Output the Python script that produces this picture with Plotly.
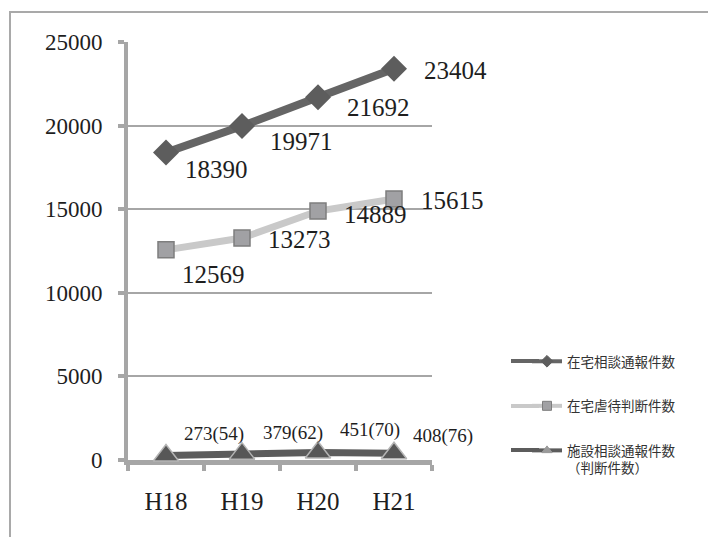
import plotly.graph_objects as go

# Fiscal years
years = ["H18", "H19", "H20", "H21"]

# Series names
name_home_reports = "在宅相談通報件数"
name_home_judged = "在宅虐待判断件数"
name_facility = "施設相談通報件数<br>（判断件数）"

# Series values
home_reports = [18390, 19971, 21692, 23404]
home_judged = [12569, 13273, 14889, 15615]
facility_reports = [273, 379, 451, 408]
facility_judged = [54, 62, 70, 76]

# Y-axis ticks
y_ticks = [0, 5000, 10000, 15000, 20000, 25000]

# Label offsets (px) from each point: (right, down)
off_home_reports = [(50, 17), (59, 15), (60, 10), (61, 2)]
off_home_judged = [(47, 25), (57, 1), (57, 3), (58, 2)]
off_facility = [(48, -21), (51, -21), (52, -22), (49, -17)]

W, H = 708, 537
PX_L, PX_R, PX_T, PX_B = 128, 432, 42, 460

SERIF = "Liberation Serif, DejaVu Serif, serif"
CJK = "Noto Sans CJK JP"
TXT = "#1e1e1e"
AXC = "#a6a6a6"

LINE1, LINE2, LINE3 = "#656565", "#c9c9c9", "#5c5c5c"

fig = go.Figure()

fig.add_trace(go.Scatter(
    x=years, y=home_reports, mode="lines+markers", showlegend=False,
    line=dict(color=LINE1, width=8),
    marker=dict(symbol="diamond", size=20, color="#5d5d5d"),
    cliponaxis=False,
))
fig.add_trace(go.Scatter(
    x=years, y=home_judged, mode="lines+markers", showlegend=False,
    line=dict(color=LINE2, width=7),
    marker=dict(symbol="square", size=16, color="#a1a1a4",
                line=dict(color="#7e7e7e", width=1.5)),
    cliponaxis=False,
))
fig.add_trace(go.Scatter(
    x=years, y=facility_reports, mode="lines+markers", showlegend=False,
    line=dict(color=LINE3, width=7),
    marker=dict(symbol="triangle-up", size=22, color="#575757",
                line=dict(color="#b4b4b4", width=1.5)),
    cliponaxis=False,
))

# Legend entries with small symbols
legend_specs = [
    (name_home_reports, LINE1, "diamond", 9, "#5d5d5d", "#5d5d5d"),
    (name_home_judged, LINE2, "square", 9, "#a1a1a4", "#7e7e7e"),
    (name_facility, LINE3, "triangle-up", 9, "#9a9a9a", "#9a9a9a"),
]
for i, (nm, lc, sym, sz, fc, bc) in enumerate(legend_specs):
    fig.add_trace(go.Scatter(
        x=[None], y=[None], mode="lines+markers", name=nm,
        legendgroup=f"g{i}",
        line=dict(color=lc, width=4),
        marker=dict(symbol=sym, size=sz, color=fc, line=dict(color=bc, width=1)),
    ))

# Value labels
annotations = []
for vals, offs in [(home_reports, off_home_reports), (home_judged, off_home_judged)]:
    for yr, v, (dx, dy) in zip(years, vals, offs):
        annotations.append(dict(
            x=yr, y=v, xref="x", yref="y", text=str(v), showarrow=False,
            xshift=dx, yshift=-dy, xanchor="center", yanchor="middle",
            font=dict(family=SERIF, size=25, color=TXT),
        ))
for yr, v, j, (dx, dy) in zip(years, facility_reports, facility_judged, off_facility):
    annotations.append(dict(
        x=yr, y=v, xref="x", yref="y", text=f"{v}({j})", showarrow=False,
        xshift=dx, yshift=-dy, xanchor="center", yanchor="middle",
        font=dict(family=SERIF, size=19, color=TXT),
    ))

# Outer frame (top and left edges)
frame_c = "#a9a9a9"
shapes = [
    dict(type="line", xref="paper", yref="paper",
         x0=9 / W, x1=1, y0=1 - 12 / H, y1=1 - 12 / H,
         line=dict(color=frame_c, width=2)),
    dict(type="line", xref="paper", yref="paper",
         x0=10 / W, x1=10 / W, y0=0, y1=1 - 12 / H,
         line=dict(color=frame_c, width=2)),
]
# Longer lead-in for the legend line samples
LEG_X = 527
for c, py in zip([LINE1, LINE2, LINE3], [361, 406, 450]):
    shapes.append(dict(type="line", xref="paper", yref="paper",
                       x0=511 / W, x1=(LEG_X + 12) / W,
                       y0=1 - py / H, y1=1 - py / H,
                       line=dict(color=c, width=4)))

fig.update_layout(
    width=W, height=H,
    margin=dict(l=0, r=0, t=0, b=0, autoexpand=False),
    paper_bgcolor="white", plot_bgcolor="white",
    annotations=annotations, shapes=shapes,
    legend=dict(
        x=LEG_X / W, y=1 - 346 / H, xanchor="left", yanchor="top",
        font=dict(family=CJK, size=13.5, color="#333333"),
        tracegroupgap=24, valign="top",
        bgcolor="rgba(0,0,0,0)",
    ),
    xaxis=dict(
        domain=[PX_L / W, PX_R / W], type="category", range=[-0.5, 3.5],
        showline=True, linecolor=AXC, linewidth=5,
        ticks="outside", tickson="boundaries", ticklen=6, tickwidth=4, tickcolor=AXC,
        showgrid=False, zeroline=False, layer="below traces",
        tickfont=dict(family=SERIF, size=25, color=TXT),
        ticklabelstandoff=15, automargin=False,
    ),
    yaxis=dict(
        domain=[(H - PX_B) / H, (H - PX_T) / H], range=[0, 25000],
        tickvals=y_ticks, ticktext=[str(t) for t in y_ticks],
        showline=True, linecolor=AXC, linewidth=4,
        ticks="outside", ticklen=6, tickwidth=4, tickcolor=AXC,
        showgrid=True, gridcolor=AXC, gridwidth=2,
        zeroline=False, layer="below traces",
        tickfont=dict(family=SERIF, size=23, color=TXT),
        ticklabelstandoff=11, automargin=False,
    ),
)

fig.write_html("out.html")
